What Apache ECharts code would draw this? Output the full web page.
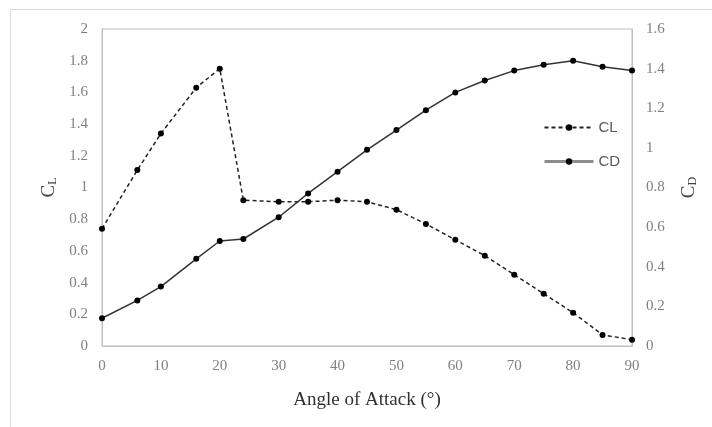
<!DOCTYPE html>
<html>
<head>
<meta charset="utf-8">
<script src="https://cdn.jsdelivr.net/npm/echarts@6/dist/echarts.min.js"></script>
<style>
  html, body { margin: 0; padding: 0; background: #fff; }
  #chart { width: 712px; height: 427px; }
</style>
</head>
<body>
<div id="chart"></div>
<script>
// angle of attack (deg)
var angles = [0, 6, 10, 16, 20, 24, 30, 35, 40, 45, 50, 55, 60, 65, 70, 75, 80, 85, 90];
// lift coefficient (left axis)
var clValues = [0.74, 1.11, 1.34, 1.63, 1.75, 0.92, 0.91, 0.91, 0.92, 0.91, 0.86, 0.77, 0.67, 0.57, 0.45, 0.33, 0.21, 0.07, 0.04];
// drag coefficient (right axis)
var cdValues = [0.14, 0.23, 0.30, 0.44, 0.53, 0.54, 0.65, 0.77, 0.88, 0.99, 1.09, 1.19, 1.28, 1.34, 1.39, 1.42, 1.44, 1.41, 1.39];

function pairs(xs, ys) {
  return xs.map(function (x, i) { return [x, ys[i]]; });
}

var chart = echarts.init(document.getElementById('chart'));

var tickFont = { color: '#808080', fontFamily: 'Liberation Serif', fontSize: 15 };
var boxLine = { show: true, lineStyle: { color: '#bfbfbf', width: 1 } };
var subRich = {
  c: { fontFamily: 'Liberation Serif', fontSize: 19, color: '#404040', verticalAlign: 'bottom', lineHeight: 22 },
  s: { fontFamily: 'Liberation Serif', fontSize: 12, color: '#404040', verticalAlign: 'bottom', lineHeight: 14 }
};

var option = {
  animation: false,
  backgroundColor: '#fff',
  graphic: [
    { type: 'line', shape: { x1: 10.5, y1: 9, x2: 10.5, y2: 427 }, style: { stroke: '#d9d9d9', lineWidth: 1 } },
    { type: 'line', shape: { x1: 10, y1: 9.5, x2: 712, y2: 9.5 }, style: { stroke: '#d9d9d9', lineWidth: 1 } }
  ],
  grid: { left: 102, right: 80, top: 29, bottom: 81, show: true, borderColor: '#bfbfbf', borderWidth: 1 },
  legend: {
    orient: 'vertical',
    left: 538,
    top: 115,
    itemWidth: 49,
    itemHeight: 8,
    itemGap: 19,
    textStyle: { color: '#595959', fontFamily: 'Liberation Sans', fontSize: 15 },
    data: [
      { name: 'CL' },
      { name: 'CD', lineStyle: { color: '#8c8c8c', width: 3 } }
    ]
  },
  xAxis: {
    type: 'value',
    min: 0, max: 90, interval: 10,
    name: 'Angle of Attack (°)',
    nameLocation: 'middle',
    nameGap: 45,
    nameTextStyle: { color: '#303030', fontFamily: 'Liberation Serif', fontSize: 19 },
    axisLine: boxLine,
    axisTick: { show: false },
    axisLabel: Object.assign({ margin: 13 }, tickFont),
    splitLine: { show: false }
  },
  yAxis: [
    {
      type: 'value',
      min: 0, max: 2, interval: 0.2,
      name: '{c|C}{s|L}',
      nameLocation: 'middle',
      nameRotate: 90,
      nameGap: 42,
      nameTextStyle: { rich: subRich },
      axisLine: boxLine,
      axisTick: { show: false },
      axisLabel: Object.assign({ margin: 14 }, tickFont),
      splitLine: { show: false }
    },
    {
      type: 'value',
      min: 0, max: 1.6, interval: 0.2,
      name: '{c|C}{s|D}',
      nameLocation: 'middle',
      nameRotate: 90,
      nameGap: 45,
      nameTextStyle: { rich: subRich },
      axisLine: boxLine,
      axisTick: { show: false },
      axisLabel: Object.assign({ margin: 14 }, tickFont),
      splitLine: { show: false }
    }
  ],
  series: [
    {
      name: 'CL',
      type: 'line',
      yAxisIndex: 0,
      data: pairs(angles, clValues),
      symbol: 'circle',
      symbolSize: 6,
      itemStyle: { color: '#000' },
      lineStyle: { color: '#222', width: 1.5, type: [4, 3] }
    },
    {
      name: 'CD',
      type: 'line',
      yAxisIndex: 1,
      data: pairs(angles, cdValues),
      symbol: 'circle',
      symbolSize: 6,
      itemStyle: { color: '#000' },
      lineStyle: { color: '#333', width: 1.5 }
    }
  ]
};

chart.setOption(option);
</script>
</body>
</html>
